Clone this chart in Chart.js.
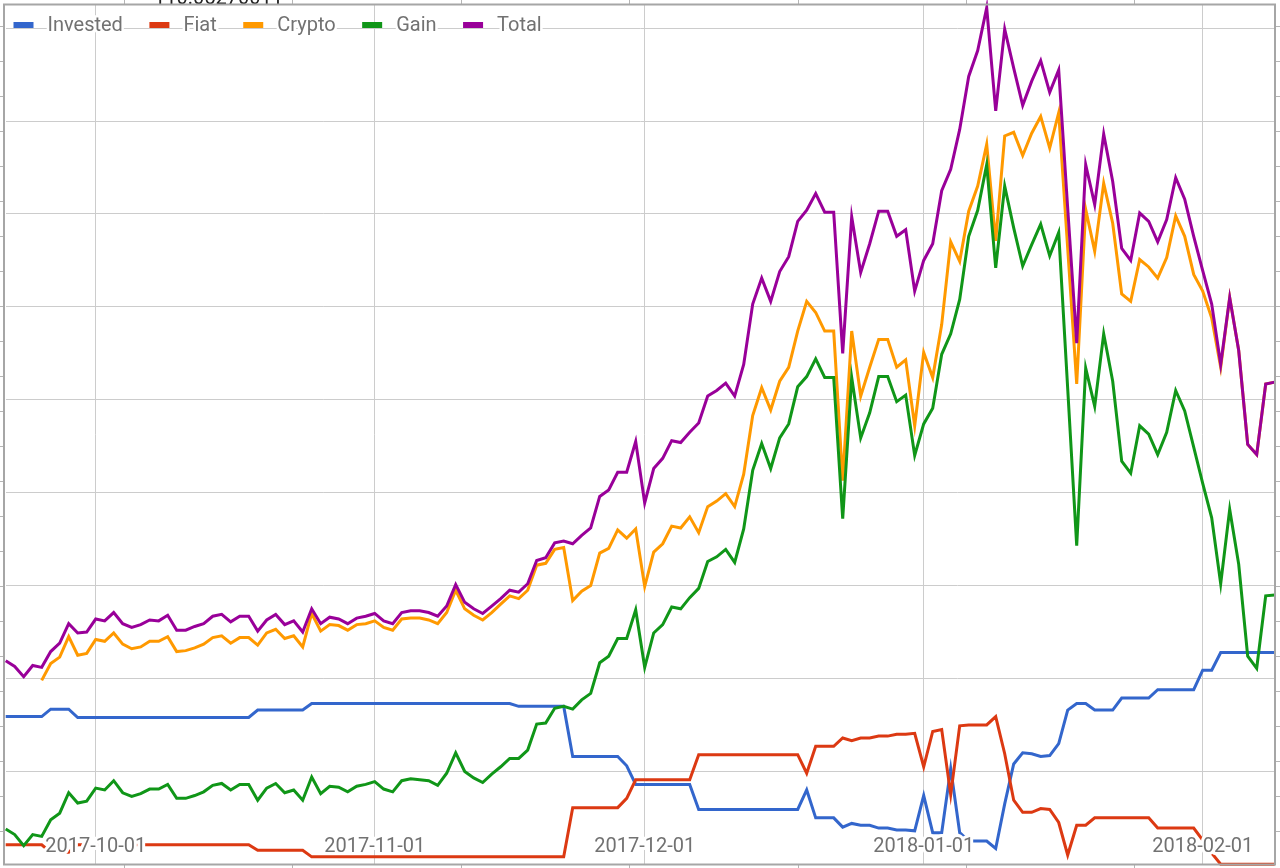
<!DOCTYPE html>
<html>
<head>
<meta charset="utf-8">
<title>Portfolio</title>
<script src="https://cdn.jsdelivr.net/npm/chart.js@4"></script>
<style>
  html, body { margin: 0; padding: 0; background: #ffffff; }
  #wrap { position: absolute; left: 0; top: 0; width: 1280px; height: 868px; }
  canvas { display: block; }
</style>
</head>
<body>
<div id="wrap"><canvas id="c" width="1280" height="868"></canvas></div>
<script>
// ---- data ----
const startDate = [2017, 8, 21];   // 2017-09-21, one point per day
const dayCount = 142;
const dates = [];
for (let i = 0; i < dayCount; i++) {
  dates.push(new Date(Date.UTC(startDate[0], startDate[1], startDate[2] + i)).toISOString().slice(0, 10));
}
const monthTicks = ['2017-10-01', '2017-11-01', '2017-12-01', '2018-01-01', '2018-02-01'];
const seriesNames = ['Invested', 'Fiat', 'Crypto', 'Gain', 'Total'];
const topNote = '110.05270011';

const invested = [
  1590,1590,1590,1590,1590,1670,1670,1670,1580,1580,
  1580,1580,1580,1580,1580,1580,1580,1580,1580,1580,
  1580,1580,1580,1580,1580,1580,1580,1580,1660,1660,
  1660,1660,1660,1660,1730,1730,1730,1730,1730,1730,
  1730,1730,1730,1730,1730,1730,1730,1730,1730,1730,
  1730,1730,1730,1730,1730,1730,1730,1700,1700,1700,
  1700,1700,1700,1160,1160,1160,1160,1160,1160,1060,
  860,860,860,860,860,860,860,590,590,590,
  590,590,590,590,590,590,590,590,590,800,
  500,500,500,400,440,420,420,390,390,370,
  370,360,740,340,340,1030,340,250,250,250,
  170,650,1080,1200,1190,1160,1170,1300,1660,1730,
  1730,1660,1660,1660,1790,1790,1790,1790,1880,1880,
  1880,1880,1880,2090,2090,2280,2280,2280,2280,2280,
  2280,2280
];
const fiat = [
  210,210,210,210,210,130,130,130,210,210,
  210,210,210,210,210,210,210,210,210,210,
  210,210,210,210,210,210,210,210,150,150,
  150,150,150,150,80,80,80,80,80,80,
  80,80,80,80,80,80,80,80,80,80,
  80,80,80,80,80,80,80,80,80,80,
  80,80,80,610,610,610,610,610,610,710,
  910,910,910,910,910,910,910,1180,1180,1180,
  1180,1180,1180,1180,1180,1180,1180,1180,1180,980,
  1270,1270,1270,1360,1330,1360,1360,1380,1380,1400,
  1400,1410,1050,1430,1450,750,1490,1500,1500,1500,
  1590,1190,690,560,560,600,590,450,100,420,
  420,500,500,500,500,500,500,500,390,390,
  390,390,390,260,120,0,0,0,0,0,
  0,0
];
const crypto = [
  1980,null,null,null,1980,2160,2230,2450,2250,2270,
  2420,2400,2490,2370,2320,2340,2400,2400,2450,2290,
  2300,2330,2370,2440,2460,2380,2440,2440,2360,2490,
  2530,2430,2460,2340,2700,2510,2580,2570,2520,2580,
  2590,2620,2550,2520,2640,2650,2650,2630,2590,2710,
  2950,2750,2680,2630,2710,2800,2890,2860,2950,3220,
  3240,3390,3410,2840,2940,3000,3350,3400,3600,3510,
  3610,2990,3360,3450,3640,3620,3740,3570,3850,3910,
  3990,3850,4200,4830,5130,4890,5200,5350,5740,6060,
  5940,5740,5740,4130,5740,5040,5350,5650,5650,5350,
  5430,4720,5510,5240,5810,6700,6490,7030,7300,7750,
  6710,7840,7880,7630,7870,8050,7710,8090,6630,5170,
  7050,6600,7330,6900,6140,6060,6510,6430,6310,6530,
  6980,6760,6350,6170,5880,5350,6100,5530,4520,4410,
  5170,5190
];
const gain = [
  380,320,200,320,300,480,550,770,660,680,
  820,800,900,770,730,760,810,810,860,710,
  710,740,780,850,870,800,860,860,690,820,
  870,770,800,690,940,760,840,830,780,840,
  860,890,810,780,900,920,910,900,850,980,
  1200,1000,930,880,970,1050,1140,1140,1230,1510,
  1520,1680,1700,1670,1770,1840,2170,2240,2430,2430,
  2740,2120,2490,2580,2770,2750,2870,2970,3260,3310,
  3390,3250,3610,4240,4530,4260,4590,4740,5140,5250,
  5440,5240,5240,3720,5240,4590,4860,5250,5250,4980,
  5050,4400,4740,4910,5490,5710,6080,6760,7040,7530,
  6420,7300,6850,6440,6670,6890,6550,6800,5120,3430,
  5340,4930,5710,5200,4340,4210,4720,4630,4410,4650,
  5100,4880,4490,4100,3730,3020,3820,3230,2240,2110,
  2890,2900
];
const total = [
  2190,2130,2020,2140,2120,2290,2380,2590,2490,2500,
  2640,2620,2710,2590,2550,2580,2630,2620,2680,2520,
  2520,2560,2590,2670,2690,2610,2670,2670,2510,2630,
  2690,2580,2620,2500,2750,2590,2660,2640,2590,2650,
  2670,2700,2620,2590,2710,2730,2730,2710,2670,2780,
  3010,2820,2750,2700,2780,2860,2950,2930,3020,3270,
  3300,3460,3480,3450,3540,3620,3960,4030,4220,4220,
  4550,3890,4260,4370,4560,4540,4650,4750,5040,5100,
  5180,5040,5380,6030,6310,6060,6380,6540,6920,7040,
  7220,7020,7020,5500,6970,6370,6680,7030,7030,6760,
  6830,6170,6500,6680,7250,7480,7910,8480,8760,9220,
  8110,8990,8570,8170,8430,8650,8310,8550,7060,5610,
  7530,7100,7860,7350,6630,6500,7010,6920,6700,6940,
  7390,7160,6760,6390,6030,5380,6100,5530,4520,4410,
  5170,5190
];
const yGridStep = 1000;

// ---- styling ----
const colors = ['#3366cc', '#dc3912', '#ff9900', '#109618', '#990099'];
const seriesData = [invested, fiat, crypto, gain, total];
const GRID = '#cccccc';
const TEXT = '#727272';
const FONT = '20px Roboto, "Noto Sans", sans-serif';

const datasets = seriesData.map((d, i) => ({
  label: seriesNames[i],
  data: d,
  borderColor: colors[i],
  backgroundColor: colors[i],
  borderWidth: 3,
  pointRadius: 0,
  pointHoverRadius: 0,
  tension: 0,
  fill: false,
  spanGaps: false,
  clip: false,
  order: seriesNames.length - i   // later series drawn on top
}));

const overlay = {
  id: 'overlay',
  afterDatasetsDraw(chart) {
    const ctx = chart.ctx;
    const xs = chart.scales.x;
    const area = chart.chartArea;
    ctx.save();
    ctx.font = FONT;
    ctx.lineJoin = 'round';
    // x-axis labels drawn inside the plot, with a white halo
    ctx.textAlign = 'center';
    ctx.textBaseline = 'alphabetic';
    monthTicks.forEach(lbl => {
      const px = xs.getPixelForValue(dates.indexOf(lbl));
      const py = area.bottom - 12.8;
      ctx.strokeStyle = '#ffffff';
      ctx.lineWidth = 6;
      ctx.strokeText(lbl, px, py);
      ctx.fillStyle = TEXT;
      ctx.fillText(lbl, px, py);
    });
    // legend inside the plot, top-left
    ctx.textAlign = 'left';
    let x = 13.5;
    const boxY = 22, boxW = 20, boxH = 6, textY = 31;
    chart.data.datasets.forEach(ds => {
      ctx.fillStyle = ds.borderColor;
      ctx.fillRect(x, boxY, boxW, boxH);
      const tx = x + 34;
      ctx.strokeStyle = '#ffffff';
      ctx.lineWidth = 5;
      ctx.strokeText(ds.label, tx, textY);
      ctx.fillStyle = TEXT;
      ctx.fillText(ds.label, tx, textY);
      x = tx + ctx.measureText(ds.label).width + 26.5;
    });
    ctx.restore();
  },
  afterDraw(chart) {
    const ctx = chart.ctx;
    ctx.save();
    // clipped note at the very top
    ctx.font = FONT;
    ctx.fillStyle = '#222222';
    ctx.textAlign = 'left';
    ctx.textBaseline = 'alphabetic';
    ctx.fillText(topNote, 154, 4);
    // outer tick marks
    ctx.strokeStyle = '#b5b5b5';
    ctx.lineWidth = 1;
    ctx.beginPath();
    for (let k = 0; k < 24; k++) {
      const y = Math.round(25.5 + 35 * k) + 0.5;
      ctx.moveTo(0, y); ctx.lineTo(4, y);
      ctx.moveTo(1275, y); ctx.lineTo(1280, y);
    }
    for (let k = 0; k < 7; k++) {
      const xx = Math.round(124 + 168.4 * k) + 0.5;
      ctx.moveTo(xx, 0); ctx.lineTo(xx, 4);
      ctx.moveTo(xx, 865); ctx.lineTo(xx, 868);
    }
    ctx.stroke();
    // plot frame
    ctx.strokeStyle = '#a6a6a6';
    ctx.lineWidth = 2;
    ctx.strokeRect(4, 4.5, 1271, 860);
    ctx.restore();
  }
};

new Chart(document.getElementById('c'), {
  type: 'line',
  data: { labels: dates, datasets },
  options: {
    responsive: false,
    animation: false,
    devicePixelRatio: 1,
    events: [],
    layout: { padding: { left: 5.7, right: 5.3, top: 4.5, bottom: 3.7 } },
    plugins: {
      legend: { display: false },
      tooltip: { enabled: false },
      title: { display: false }
    },
    scales: {
      x: {
        type: 'category',
        offset: false,
        border: { display: false },
        ticks: { display: false, autoSkip: false },
        grid: {
          drawTicks: false,
          lineWidth: 1,
          color: (c) => (c.tick && monthTicks.includes(dates[c.tick.value])) ? GRID : 'rgba(0,0,0,0)'
        }
      },
      y: {
        type: 'linear',
        min: 0,
        max: 9255,
        border: { display: false },
        afterBuildTicks: (scale) => {
          const t = [];
          for (let v = 0; v <= scale.max; v += yGridStep) t.push({ value: v });
          scale.ticks = t;
        },
        ticks: { display: false },
        grid: {
          display: true,
          drawOnChartArea: true,
          drawTicks: false,
          lineWidth: 1,
          color: GRID
        }
      }
    }
  },
  plugins: [overlay]
});
</script>
</body>
</html>
